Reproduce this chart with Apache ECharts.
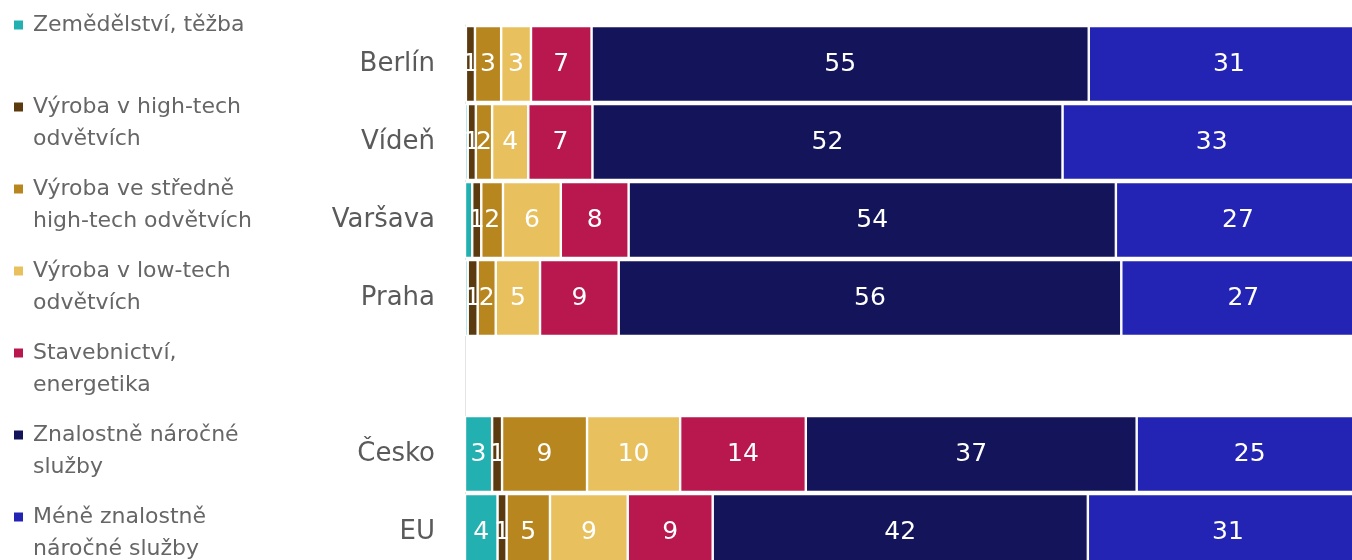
<!DOCTYPE html>
<html>
<head>
<meta charset="utf-8">
<script src="https://cdn.jsdelivr.net/npm/echarts@6/dist/echarts.min.js"></script>
<style>
  html, body { margin: 0; padding: 0; background: #fff; }
  #chart { width: 1352px; height: 560px; }
</style>
</head>
<body>
<div id="chart"></div>
<script>
// categories (top to bottom), empty slot separates cities from countries
const cities = ['Berlín', 'Vídeň', 'Varšava', 'Praha', '', 'Česko', 'EU'];

// sector names (legend order)
const sectors = [
  'Zemědělství, těžba',
  'Výroba v high-tech odvětvích',
  'Výroba ve středně high-tech odvětvích',
  'Výroba v low-tech odvětvích',
  'Stavebnictví, energetika',
  'Znalostně náročné služby',
  'Méně znalostně náročné služby'
];
// wrapped legend text
const legendLabels = [
  'Zemědělství, těžba\n ',
  'Výroba v high-tech\nodvětvích',
  'Výroba ve středně\nhigh-tech odvětvích',
  'Výroba v low-tech\nodvětvích',
  'Stavebnictví,\nenergetika',
  'Znalostně náročné\nslužby',
  'Méně znalostně\nnáročné služby'
];
const colors = ['#22b0b0', '#5a3a0e', '#b8861e', '#e8c05e', '#b8184e', '#14145a', '#2424b4'];

// shares in % per category (null for the spacer row)
const agriculture = [0.1, 0.3, 0.8, 0.3, null, 3.0, 3.6];
const highTech    = [1, 0.9, 1.0, 1.1, null, 1.1, 1.0];
const midHighTech = [2.9, 1.8, 2.4, 2.0, null, 9.4, 4.8];
const lowTech     = [3.3, 4.0, 6.4, 4.9, null, 10.3, 8.6];
const construct   = [6.7, 7.1, 7.5, 8.7, null, 13.9, 9.4];
const knowledge   = [55, 52, 53.9, 55.6, null, 36.6, 41.5];
const lessKnow    = [31, 33, 27, 27, null, 25, 31];

const seriesData = [agriculture, highTech, midHighTech, lowTech, construct, knowledge, lessKnow];

const FONT = 'DejaVu Sans';

const chart = echarts.init(document.getElementById('chart'), null, { renderer: 'canvas' });

chart.setOption({
  animation: false,
  backgroundColor: '#fff',
  color: colors,
  textStyle: { fontFamily: FONT },
  // plot runs past the right and bottom edges, as in the source image
  grid: { left: 465, top: 25, width: 904, height: 546, containLabel: false, outerBoundsMode: 'none' },
  legend: {
    orient: 'vertical',
    left: 14,
    top: 9,
    height: 800,
    padding: 0,
    itemGap: 18,
    itemWidth: 14,
    itemHeight: 41,
    // square sits at the top so it lines up with the first text line
    icon: 'path://M0,0h9v9h-9z M14,41',
    itemStyle: { borderWidth: 0 },
    data: sectors,
    formatter: name => legendLabels[sectors.indexOf(name)],
    textStyle: { fontFamily: FONT, fontSize: 22, color: '#666', lineHeight: 32 }
  },
  xAxis: {
    type: 'value',
    min: 0,
    max: 100,
    show: false
  },
  yAxis: {
    type: 'category',
    data: cities,
    inverse: true,
    axisLine: { show: true, lineStyle: { color: '#e4e4e4', width: 1 } },
    axisTick: { show: false },
    axisLabel: { fontFamily: FONT, fontSize: 26, color: '#5a5a5a', margin: 30 }
  },
  series: sectors.map((name, i) => ({
    name: name,
    type: 'bar',
    stack: 'total',
    barWidth: 76,
    data: seriesData[i],
    itemStyle: { borderColor: '#fff', borderWidth: 1.2 },
    label: {
      show: true,
      position: 'inside',
      color: '#fff',
      fontFamily: FONT,
      fontSize: 25,
      formatter: p => (p.value == null || p.value < 0.9) ? '' : String(Math.round(p.value))
    }
  }))
});
</script>
</body>
</html>
